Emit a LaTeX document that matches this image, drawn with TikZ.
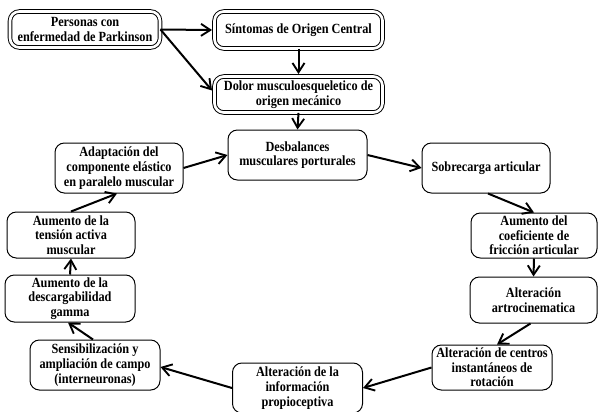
\documentclass[tikz,border=0pt]{standalone}
\usepackage{fontspec}
\setmainfont{Liberation Serif}[FakeStretch=0.875]
\usetikzlibrary{arrows.meta,calc}
\tikzset{
  box/.style={draw, line width=0.75pt, rounded corners=7pt, align=center,
    inner sep=0pt, font=\fontsize{10.5}{11}\selectfont\bfseries},
  dbox/.style={box, double, double distance=2pt, line width=0.7pt},
  sz/.style 2 args={minimum width=#1*0.75pt, minimum height=#2*0.75pt},
  link/.style={line width=1.5pt, -{Straight Barb[length=7pt,width=9pt,line width=1.4pt]}}
}
\begin{document}
\begin{tikzpicture}[x=0.75pt, y=-0.75pt]
\useasboundingbox (0,0) rectangle (598,411);

% entry boxes (double frame)
\node[dbox, sz={150}{36}] (pers) at (85,29.5) {Personas con\\enfermedad de Parkinson};
\node[dbox, sz={168}{37}] (sint) at (298.5,30) {Síntomas de Origen Central};
\node[dbox, sz={168}{36}] (dolor) at (298.5,94.5) {Dolor musculoesqueletico de\\origen mecánico};

% cycle boxes
\node[box, sz={139}{50}] (desb) at (297.5,155) {Desbalances\\musculares porturales};
\node[box, sz={128}{50}] (sobre) at (486,168) {Sobrecarga articular};
\node[box, sz={126}{45}] (coef) at (534,235.5) {Aumento del\\coeficiente de\\fricción articular};
\node[box, sz={127}{46}] (artro) at (533.5,300) {Alteración\\artrocinematica};
\node[box, sz={120}{45}] (centros) at (492,367.5) {Alteración de centros\\instantáneos de\\rotación};
\node[box, sz={130}{50}] (propio) at (297.5,388) {Alteración de la\\información\\propioceptiva};
\node[box, sz={130}{50}] (sens) at (95,365) {Sensibilización y\\ampliación de campo\\(interneuronas)};
\node[box, sz={130}{47}] (gamma) at (70,298.5) {Aumento de la\\descargabilidad\\gamma};
\node[box, sz={128}{46}] (tension) at (71,235) {Aumento de la\\tensión activa\\muscular};
\node[box, sz={128}{50}] (adapt) at (119,168) {Adaptación del\\componente elástico\\en paralelo muscular};

% connectors
\draw[link] (pers.east) -- ($(sint.west)+(-2,0)$);
\draw[link] (pers.east) -- ($(dolor.west)+(-2,-4)$);
\draw[link] (sint.south) -- ($(dolor.north)+(0,-2)$);
\draw[link] (dolor.south) -- (desb.north);
\draw[link] (desb.east) -- (sobre.west);
\draw[link] ($(sobre.south)+(2,0)$) -- (coef.north);
\draw[link] (coef.south) -- (artro.north);
\draw[link] ($(artro.south)+(-3,0)$) -- ($(centros.north)+(5,0)$);
\draw[link] (centros.west) -- (propio.east);
\draw[link] (propio.west) -- ($(sens.east)+(0,2)$);
\draw[link] ($(sens.north)+(-2,0)$) -- ($(gamma.south)+(-2,0)$);
\draw[link] (gamma.north) -- (tension.south);
\draw[link] (tension.north) -- ($(adapt.south)+(-2,0)$);
\draw[link] (adapt.east) -- (desb.west);
\end{tikzpicture}
\end{document}
